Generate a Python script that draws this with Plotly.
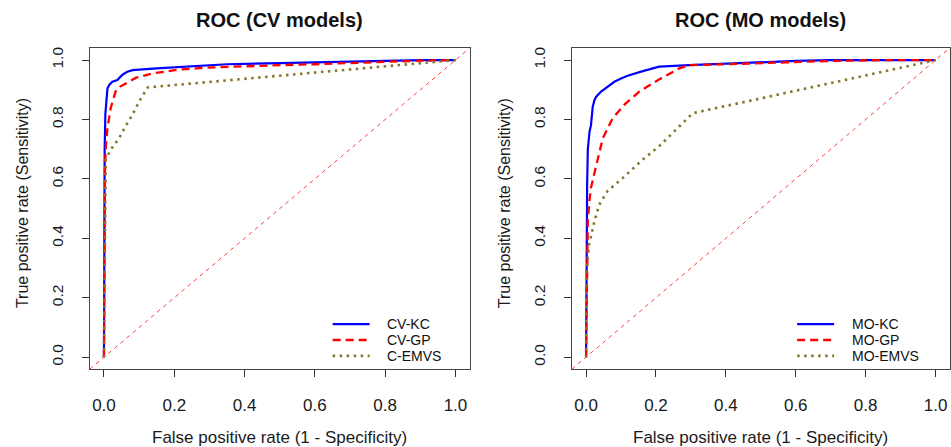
import plotly.graph_objects as go

# ---- ROC curves: cross-validated models ----
cv_kc_fpr = [0, 0.001, 0.002, 0.004, 0.007, 0.010, 0.016, 0.024, 0.038, 0.052, 0.065, 0.081,
             0.15, 0.25, 0.35, 0.5, 0.65, 0.8, 0.9, 1.0]
cv_kc_tpr = [0, 0.45, 0.70, 0.82, 0.87, 0.905, 0.918, 0.927, 0.933, 0.950, 0.960, 0.966,
             0.972, 0.980, 0.986, 0.990, 0.994, 0.997, 1.0, 1.0]

cv_gp_fpr = [0, 0.002, 0.003, 0.006, 0.010, 0.019, 0.033, 0.045, 0.062, 0.09, 0.138, 0.214,
             0.3, 0.4, 0.5, 0.6, 0.7, 0.8, 0.9, 1.0]
cv_gp_tpr = [0, 0.45, 0.65, 0.72, 0.77, 0.838, 0.894, 0.910, 0.922, 0.940, 0.955, 0.968,
             0.975, 0.980, 0.983, 0.986, 0.990, 0.995, 0.998, 1.0]

c_emvs_fpr = [0, 0.003, 0.005, 0.02, 0.043, 0.06, 0.081, 0.105, 0.125, 1.0]
c_emvs_tpr = [0, 0.60, 0.665, 0.70, 0.737, 0.775, 0.816, 0.871, 0.908, 1.0]

# ---- ROC curves: MO models ----
mo_kc_fpr = [0, 0.001, 0.003, 0.005, 0.010, 0.014, 0.019, 0.024, 0.029, 0.043, 0.062, 0.081,
             0.10, 0.119, 0.16, 0.209, 0.295, 0.4, 0.495, 0.6, 0.7, 0.85, 1.0]
mo_kc_tpr = [0, 0.40, 0.58, 0.70, 0.76, 0.78, 0.843, 0.865, 0.877, 0.894, 0.910, 0.927,
             0.938, 0.947, 0.962, 0.978, 0.983, 0.988, 0.993, 0.997, 1.0, 1.0, 1.0]

mo_gp_fpr = [0, 0.002, 0.004, 0.005, 0.009, 0.014, 0.029, 0.048, 0.076, 0.109, 0.152, 0.209,
             0.267, 0.295, 0.4, 0.5, 0.6, 0.7, 0.85, 1.0]
mo_gp_tpr = [0, 0.15, 0.35, 0.458, 0.52, 0.57, 0.645, 0.737, 0.804, 0.849, 0.894, 0.935,
             0.972, 0.983, 0.986, 0.990, 0.994, 0.997, 1.0, 1.0]

mo_emvs_fpr = [0, 0.001, 0.009, 0.024, 0.038, 0.062, 0.105, 0.162, 0.209, 0.257, 0.305, 1.0]
mo_emvs_tpr = [0, 0.29, 0.38, 0.458, 0.514, 0.56, 0.603, 0.665, 0.71, 0.765, 0.821, 1.0]

tick_vals = [0, 0.2, 0.4, 0.6, 0.8, 1.0]
tick_text = ["0.0", "0.2", "0.4", "0.6", "0.8", "1.0"]

panel_titles = ["ROC (CV models)", "ROC (MO models)"]
x_title = "False positive rate (1 - Specificity)"
y_title = "True positive rate (Sensitivity)"
left_labels = ["CV-KC", "CV-GP", "C-EMVS"]
right_labels = ["MO-KC", "MO-GP", "MO-EMVS"]

# ---- styling ----
W, H = 951, 447
FONT = "Liberation Sans, Arial, Helvetica, sans-serif"
TXT = "#1a1a1a"
BLUE, RED, OLIVE = "#0000FF", "#FF0000", "#86772E"
styles = [
    dict(color=BLUE, width=2.2, dash="solid"),
    dict(color=RED, width=2.3, dash="8px,5px"),
    dict(color=OLIVE, width=2.6, dash="2.5px,4.5px"),
]
AX_RANGE = [-0.04, 1.04]

# panel boxes in pixels (left, right, top, bottom)
boxes = [(90, 470, 46.4, 368.7), (572.7, 950.5, 46.4, 368.7)]


def px_dom(b):
    l, r, t, bt = b
    return [l / W, r / W], [(H - bt) / H, (H - t) / H]


fig = go.Figure()

panels = [
    ("x", "y", [(cv_kc_fpr, cv_kc_tpr), (cv_gp_fpr, cv_gp_tpr), (c_emvs_fpr, c_emvs_tpr)], left_labels),
    ("x2", "y2", [(mo_kc_fpr, mo_kc_tpr), (mo_gp_fpr, mo_gp_tpr), (mo_emvs_fpr, mo_emvs_tpr)], right_labels),
]

for (xa, ya, curves, labels) in panels:
    for (fx, ty), st, name in zip(curves, styles, labels):
        fig.add_trace(go.Scatter(x=fx, y=ty, mode="lines", name=name, xaxis=xa, yaxis=ya,
                                 line=dict(color=st["color"], width=st["width"], dash=st["dash"]),
                                 showlegend=False, hoverinfo="skip"))

axis_common = dict(range=AX_RANGE, tickvals=tick_vals, ticktext=tick_text, ticks="outside",
                   ticklen=7, tickwidth=1, tickcolor="#333", showline=True, mirror=True,
                   linecolor="#444", linewidth=1, showgrid=False, zeroline=False,
                   fixedrange=True)

layout = dict(width=W, height=H, margin=dict(l=0, r=0, t=0, b=0),
              paper_bgcolor="white", plot_bgcolor="white", showlegend=False)

annotations = []
shapes = []
for i, (b, (xa, ya, curves, labels)) in enumerate(zip(boxes, panels)):
    xd, yd = px_dom(b)
    suffix = "" if i == 0 else "2"
    layout["xaxis" + suffix] = dict(axis_common, domain=xd, anchor="y" + suffix, ticklabelstandoff=14,
                                    tickfont=dict(family=FONT, size=17, color=TXT))
    layout["yaxis" + suffix] = dict(axis_common, domain=yd, anchor="x" + suffix, tickangle=-90,
                                    ticklabelstandoff=13,
                                    tickfont=dict(family=FONT, size=15.5, color=TXT))
    l, r, t, bt = b
    cx = (l + r) / 2
    # chance diagonal across the whole plotting region
    shapes.append(dict(type="line", xref="x" + suffix, yref="y" + suffix,
                       x0=AX_RANGE[0], y0=AX_RANGE[0], x1=AX_RANGE[1], y1=AX_RANGE[1],
                       line=dict(color="#FF4040", width=1, dash="4px,4px"), layer="above"))
    annotations.append(dict(text="<b>%s</b>" % panel_titles[i], x=cx / W, y=(H - 18) / H,
                            xref="paper", yref="paper", showarrow=False, xanchor="center",
                            yanchor="middle", font=dict(family=FONT, size=20, color="#111")))
    annotations.append(dict(text=x_title, x=cx / W, y=(H - 437.5) / H, xref="paper", yref="paper",
                            showarrow=False, xanchor="center", yanchor="middle",
                            font=dict(family=FONT, size=17, color=TXT)))
    annotations.append(dict(text=y_title, x=(l - 68) / W, y=(H - 202) / H, xref="paper", yref="paper",
                            showarrow=False, xanchor="center", yanchor="middle", textangle=-90,
                            font=dict(family=FONT, size=16, color=TXT)))
    # legend (no border), lower right inside the panel
    bw = r - l
    bh = bt - t
    if i == 0:
        lx0, lx1, tx = 333, 370, 386
    else:
        lx0, lx1, tx = 798, 835, 852
    for j, (st, name) in enumerate(zip(styles, labels)):
        py = 323.5 + 16 * j
        yy = (bt - py) / bh
        shapes.append(dict(type="line", xref="x%s domain" % suffix, yref="y%s domain" % suffix,
                           x0=(lx0 - l) / bw, x1=(lx1 - l) / bw, y0=yy, y1=yy,
                           line=dict(color=st["color"], width=st["width"], dash=st["dash"])))
        annotations.append(dict(text=name, xref="x%s domain" % suffix, yref="y%s domain" % suffix,
                                x=(tx - l) / bw, y=yy, xanchor="left", yanchor="middle",
                                showarrow=False, borderpad=0,
                                font=dict(family=FONT, size=14, color="#111")))

layout["annotations"] = annotations
layout["shapes"] = shapes
fig.update_layout(**layout)

fig.write_html("out.html")
